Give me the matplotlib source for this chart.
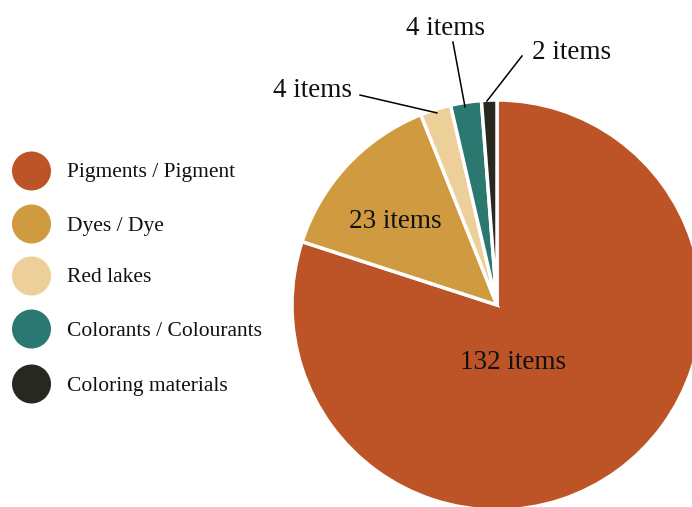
import matplotlib
matplotlib.use("Agg")
import matplotlib.pyplot as plt

categories = ["Pigments / Pigment", "Dyes / Dye", "Red lakes", "Colorants / Colourants", "Coloring materials"]
counts = [132, 23, 4, 4, 2]
colors = ["#BD5428", "#D09B40", "#EDCF9A", "#2A7870", "#282820"]
labels = [f"{c} items" for c in counts]

plt.rcParams['font.family'] = ['Liberation Serif', 'DejaVu Serif']

W, H = 692, 507
fig = plt.figure(figsize=(W / 100, H / 100), dpi=100)

# pie axes: centre (497, 305) px, radius 205 px
cx, cy, r = 497, 305, 205
ax = fig.add_axes([(cx - r) / W, (H - cy - r) / H, 2 * r / W, 2 * r / H])
wedges, _ = ax.pie(counts, colors=colors, startangle=90, counterclock=False,
                   radius=1, wedgeprops=dict(edgecolor='white', linewidth=2.5))
ax.set_xlim(-1, 1)
ax.set_ylim(-1, 1)
ax.set_aspect('equal')
ax.axis('off')
for w in wedges:
    w.set_clip_on(False)

fs = 19.5
dy = -3 / r  # small visual shift
# inside labels
ax.text(0.078, -0.268 + dy, labels[0], ha='center', va='center', fontsize=fs, color='#111111')
ax.text(-0.498, 0.42 + dy, labels[1], ha='center', va='center', fontsize=fs, color='#111111')

# outside labels with leader lines
outside = [
    (2, (-0.898, 1.059), (-0.668, 1.024), (-0.293, 0.937)),
    (3, (-0.249, 1.361), (-0.215, 1.283), (-0.156, 0.966)),
    (4, (0.366, 1.244), (0.122, 1.215), (-0.049, 0.995)),
]
for idx, tpos, p0, p1 in outside:
    ax.text(tpos[0], tpos[1] + dy, labels[idx], ha='center', va='center', fontsize=fs,
            color='#111111', clip_on=False)
    ax.plot([p0[0], p1[0]], [p0[1], p1[1]], color='black', lw=1.1, clip_on=False)

# legend drawn in pixel coordinates
lax = fig.add_axes([0, 0, 1, 1], facecolor='none')
lax.set_xlim(0, W)
lax.set_ylim(H, 0)
lax.axis('off')
leg_y = [171, 224, 276, 329, 384]
for y, col, cat in zip(leg_y, colors, categories):
    lax.scatter([31.5], [y], s=(39 * 0.72) ** 2, color=col, edgecolors='none')
    lax.text(67, y + 2, cat, ha='left', va='center', fontsize=15.5, color='#111111')

fig.savefig("out.png", dpi=100)
